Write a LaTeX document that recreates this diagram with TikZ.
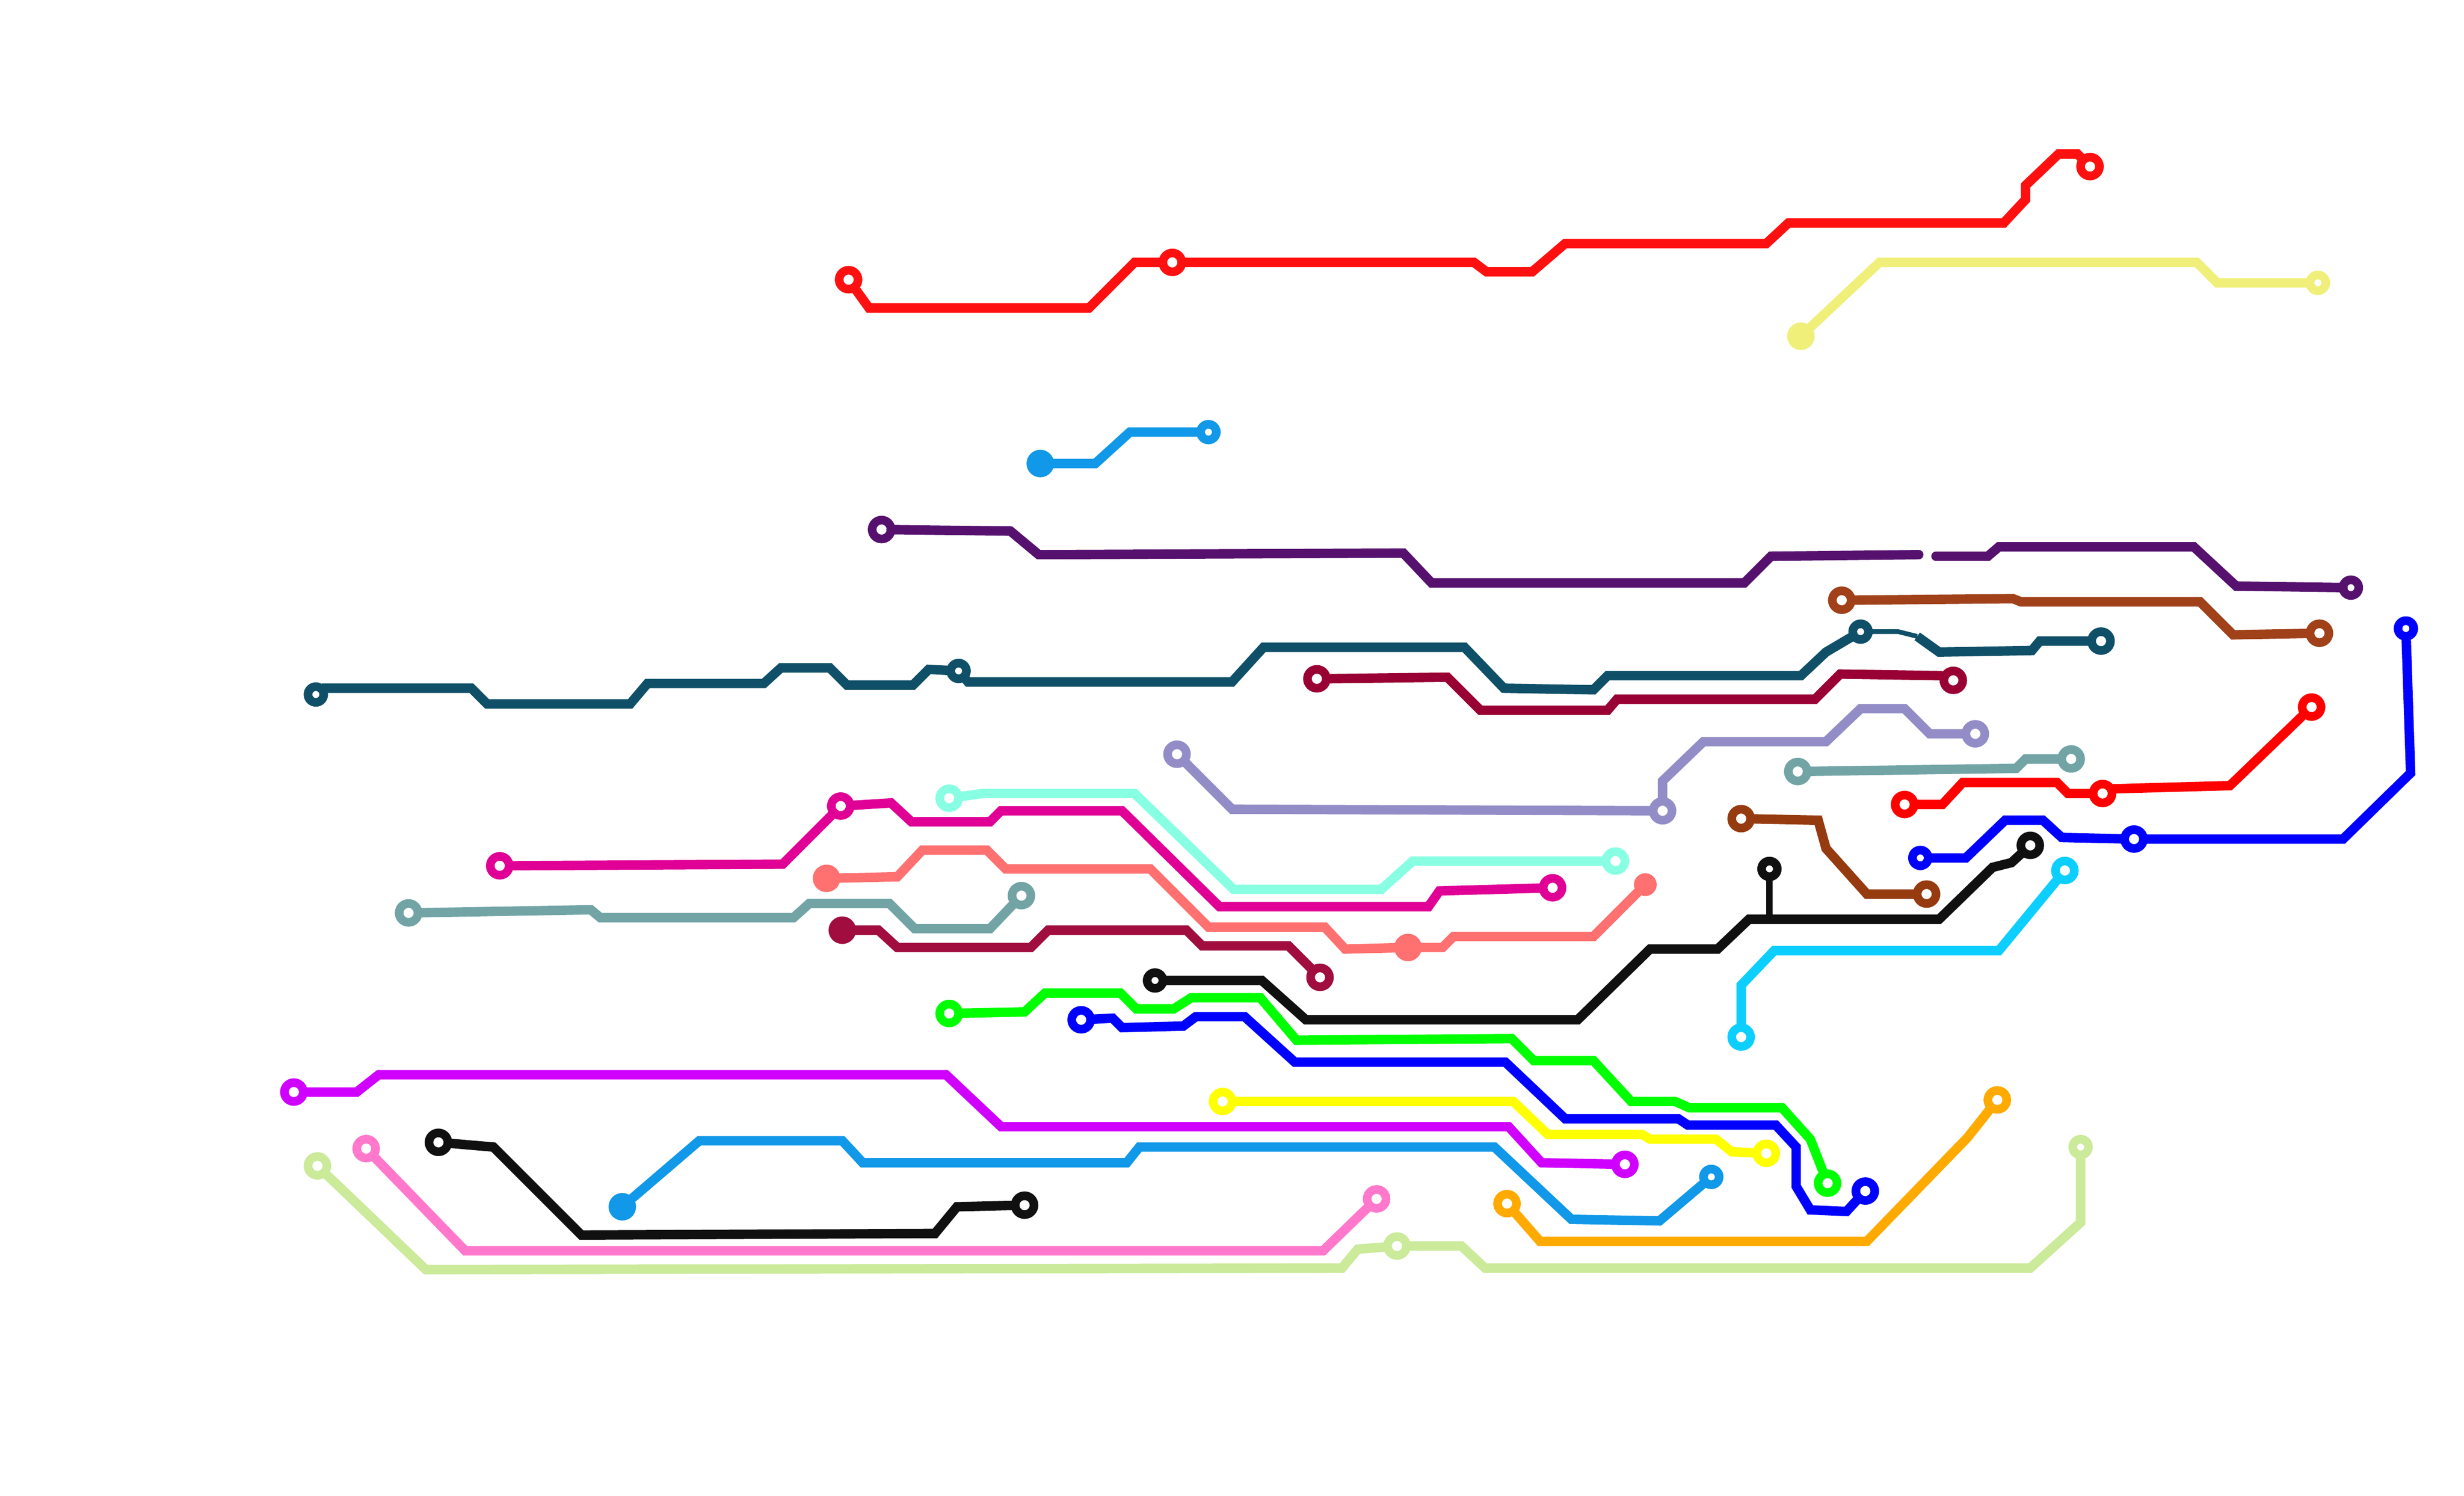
\documentclass[tikz,border=0pt]{standalone}
\definecolor{cRed}{HTML}{FF1010}
\definecolor{cRedB}{HTML}{FF0000}
\definecolor{cKhaki}{HTML}{EFEF7A}
\definecolor{cSky}{HTML}{1198E8}
\definecolor{cPurple}{HTML}{56116E}
\definecolor{cBrown}{HTML}{A0411A}
\definecolor{cBrownB}{HTML}{963A10}
\definecolor{cTeal}{HTML}{0F5068}
\definecolor{cCrimson}{HTML}{990033}
\definecolor{cLav}{HTML}{938DC7}
\definecolor{cGrey}{HTML}{72A4A6}
\definecolor{cBlue}{HTML}{0000FF}
\definecolor{cBlack}{HTML}{101010}
\definecolor{cCyan}{HTML}{0DCFFF}
\definecolor{cAqua}{HTML}{88FFE3}
\definecolor{cMag}{HTML}{E00095}
\definecolor{cSalmon}{HTML}{FF7070}
\definecolor{cMaroon}{HTML}{A00D3E}
\definecolor{cGreen}{HTML}{00FF00}
\definecolor{cYellow}{HTML}{FFFF00}
\definecolor{cViolet}{HTML}{D000FF}
\definecolor{cPink}{HTML}{FF78CC}
\definecolor{cOrange}{HTML}{FFAA00}
\definecolor{cLime}{HTML}{CBEA9A}
\tikzset{
  ring/.style={circle,draw=#1,fill=white,line width=5.5pt,minimum size=12pt,inner sep=0pt,outer sep=0pt},
  smallring/.style={ring=#1,minimum size=10pt},
  dot/.style={circle,draw=#1,fill=#1,line width=5.5pt,minimum size=12pt,inner sep=0pt,outer sep=0pt},
  track/.style={draw=#1,line width=6pt,line join=miter}
}
\begin{document}
\begin{tikzpicture}[x=1pt,y=-1pt]
\useasboundingbox (0,0) rectangle (1568,951.8);
% red top
\node[ring=cRed] (a1) at (540,178) {};
\node[ring=cRed] (a2) at (746,167) {};
\node[ring=cRed] (a3) at (1330,106) {};
\draw[track=cRed] (a1) -- (553,196) -- (693,196) -- (722,167) -- (a2);
\draw[track=cRed] (a2) -- (938,167) -- (946,173) -- (975,173) -- (996,155) -- (1124,155) -- (1138,142) -- (1275,142) -- (1289,127) -- (1289,118) -- (1310,98) -- (1322,98) -- (a3);
% khaki
\node[dot=cKhaki] (b1) at (1146,214) {};
\node[smallring=cKhaki] (b2) at (1475,180) {};
\draw[track=cKhaki] (b1) -- (1196,167) -- (1398,167) -- (1411,180) -- (b2);
% sky short
\node[dot=cSky] (c1) at (662,295) {};
\node[smallring=cSky] (c2) at (769,275) {};
\draw[track=cSky] (c1) -- (697,295) -- (719,275) -- (c2);
% purple
\node[ring=cPurple] (d1) at (561,337) {};
\node[smallring=cPurple] (d2) at (1496,374) {};
\coordinate (d3) at (1221,353);
\coordinate (d4) at (1232,354);
\draw[track=cPurple,line cap=round] (d1) -- (643,338) -- (661,353) -- (893,352) -- (911,371) -- (1110,371) -- (1127,354) -- (d3);
\draw[track=cPurple,line cap=round] (d4) -- (1265,354) -- (1272,348) -- (1396,348) -- (1423,373) -- (d2);
% brown
\node[ring=cBrown] (e1) at (1172,382) {};
\node[ring=cBrown] (e2) at (1476,403) {};
\draw[track=cBrown] (e1) -- (1281,381) -- (1286,383) -- (1400,383) -- (1421,404) -- (e2);
% teal
\node[smallring=cTeal] (f1) at (201,442) {};
\node[smallring=cTeal] (f2) at (610,427) {};
\node[smallring=cTeal] (f3) at (1184,402) {};
\node[ring=cTeal] (f4) at (1337,408) {};
\draw[track=cTeal] (f1) -- (206,438) -- (300,438) -- (310,448) -- (401,448) -- (412,435) -- (486,435) -- (497,425) -- (528,425) -- (539,436) -- (581,436) -- (591,426) -- (f2);
\draw[track=cTeal] (f2) -- (616,434) -- (784,434) -- (804,412) -- (932,412) -- (957,438) -- (1014,439) -- (1023,430) -- (1146,430) -- (1162,415) -- (f3);
\draw[track=cTeal,line width=3pt] (f3) -- (1208,402) -- (1220,405);
\draw[track=cTeal] (1220,405) -- (1234,415) -- (1293,414) -- (1298,408) -- (f4);
% crimson
\node[ring=cCrimson] (g1) at (838,432) {};
\node[ring=cCrimson] (g2) at (1243,433) {};
\draw[track=cCrimson] (g1) -- (921,431) -- (942,452) -- (1023,452) -- (1029,445) -- (1155,445) -- (1171,429) -- (1235,430) -- (g2);
% lavender
\node[ring=cLav] (h1) at (749,480) {};
\node[ring=cLav] (h2) at (1058,516) {};
\node[ring=cLav] (h3) at (1257,467) {};
\draw[track=cLav] (h1) -- (784,515) -- (h2);
\draw[track=cLav] (h2) -- (1058,497) -- (1084,472) -- (1162,472) -- (1184,451) -- (1212,451) -- (1228,467) -- (h3);
% grey right
\node[ring=cGrey] (i1) at (1144,491) {};
\node[ring=cGrey] (i2) at (1318,483) {};
\draw[track=cGrey] (i1) -- (1283,489) -- (1289,483) -- (i2);
% red 2
\node[ring=cRedB] (j1) at (1212,512) {};
\node[ring=cRedB] (j2) at (1338,505) {};
\node[ring=cRedB] (j3) at (1471,450) {};
\draw[track=cRedB] (j1) -- (1236,512) -- (1249,498) -- (1309,498) -- (1316,505) -- (j2);
\draw[track=cRedB] (j2) -- (1345,502) -- (1419,500) -- (j3);
% blue right
\node[smallring=cBlue] (k1) at (1531,400) {};
\node[ring=cBlue] (k2) at (1358,534) {};
\node[smallring=cBlue] (k3) at (1222,546) {};
\draw[track=cBlue] (k1) -- (1534,492) -- (1491,534) -- (k2);
\draw[track=cBlue] (k2) -- (1312,533) -- (1300,522) -- (1276,522) -- (1251,546) -- (k3);
% brown 2
\node[ring=cBrownB] (l1) at (1108,521) {};
\node[ring=cBrownB] (l2) at (1226,569) {};
\draw[track=cBrownB] (l1) -- (1157,522) -- (1162,540) -- (1188,569) -- (l2);
% black
\node[ring=cBlack] (m1) at (1292,538) {};
\node[smallring=cBlack] (m2) at (735,624) {};
\node[smallring=cBlack] (m3) at (1126,553) {};
\coordinate (m4) at (1126,585);
\draw[track=cBlack] (m1) -- (1280,549) -- (1268,552) -- (1234,585) -- (1113,585) -- (1093,604) -- (1050,604) -- (1004,649) -- (831,649) -- (803,624) -- (m2);
\draw[track=cBlack,line width=4pt] (m3) -- (m4);
% cyan
\node[ring=cCyan] (n1) at (1314,554) {};
\node[ring=cCyan] (n2) at (1108,660) {};
\draw[track=cCyan] (n1) -- (1272,605) -- (1129,605) -- (1108,627) -- (n2);
% aqua
\node[ring=cAqua] (o1) at (604,508) {};
\node[ring=cAqua] (o2) at (1028,548) {};
\draw[track=cAqua] (o1) -- (625,505) -- (722,505) -- (785,566) -- (879,566) -- (899,548) -- (o2);
% magenta
\node[ring=cMag] (p1) at (318,551) {};
\node[ring=cMag] (p2) at (535,513) {};
\node[ring=cMag] (p3) at (988,565) {};
\draw[track=cMag] (p1) -- (498,550) -- (p2);
\draw[track=cMag] (p2) -- (567,511) -- (580,523) -- (630,523) -- (637,516) -- (714,516) -- (776,577) -- (909,577) -- (916,567) -- (p3);
% salmon
\node[dot=cSalmon] (q1) at (526,559) {};
\node[dot=cSalmon] (q2) at (896,603) {};
\node[dot=cSalmon,minimum size=9pt] (q3) at (1047,563) {};
\draw[track=cSalmon] (q1) -- (571,558) -- (587,541) -- (628,541) -- (640,553) -- (732,553) -- (769,590) -- (843,590) -- (856,604) -- (q2);
\draw[track=cSalmon] (q2) -- (918,603) -- (925,596) -- (1014,596) -- (q3);
% grey left
\node[ring=cGrey] (r1) at (260,581) {};
\node[ring=cGrey] (r2) at (650,570) {};
\draw[track=cGrey] (r1) -- (376,579) -- (382,584) -- (505,584) -- (515,575) -- (566,575) -- (582,591) -- (630,591) -- (r2);
% maroon
\node[dot=cMaroon] (s1) at (536,592) {};
\node[ring=cMaroon] (s2) at (840,622) {};
\draw[track=cMaroon] (s1) -- (559,592) -- (571,603) -- (656,603) -- (667,592) -- (755,592) -- (765,602) -- (820,602) -- (s2);
% green
\node[ring=cGreen] (t1) at (604,645) {};
\node[ring=cGreen] (t2) at (1163,753) {};
\draw[track=cGreen] (t1) -- (652,644) -- (665,632) -- (713,632) -- (723,642) -- (747,642) -- (758,635) -- (802,635) -- (825,662) -- (962,661) -- (976,675) -- (1014,675) -- (1038,701) -- (1066,701) -- (1075,705) -- (1134,705) -- (1152,725) -- (t2);
% blue 2
\node[ring=cBlue] (u1) at (688,649) {};
\node[ring=cBlue] (u2) at (1187,758) {};
\draw[track=cBlue] (u1) -- (708,648) -- (714,654) -- (753,653) -- (761,647) -- (792,647) -- (824,676) -- (958,676) -- (996,712) -- (1068,712) -- (1074,716) -- (1130,716) -- (1143,730) -- (1143,755) -- (1152,770) -- (1175,771) -- (u2);
% yellow
\node[ring=cYellow] (v1) at (778,701) {};
\node[ring=cYellow] (v2) at (1124,734) {};
\draw[track=cYellow] (v1) -- (963,701) -- (985,722) -- (1045,722) -- (1050,725) -- (1092,725) -- (1102,733) -- (v2);
% violet
\node[ring=cViolet] (w1) at (187,695) {};
\node[ring=cViolet] (w2) at (1034,741) {};
\draw[track=cViolet] (w1) -- (227,695) -- (241,684) -- (602,684) -- (637,717) -- (960,717) -- (981,740) -- (w2);
% sky long
\node[dot=cSky] (x1) at (396,768) {};
\node[smallring=cSky] (x2) at (1089,749) {};
\draw[track=cSky] (x1) -- (445,726) -- (536,726) -- (549,740) -- (717,740) -- (725,730) -- (951,730) -- (1000,776) -- (1056,777) -- (x2);
% pink
\node[ring=cPink] (y1) at (233,731) {};
\node[ring=cPink] (y2) at (876,763) {};
\draw[track=cPink] (y1) -- (296,796) -- (842,796) -- (y2);
% black lower
\node[ring=cBlack] (z1) at (279,727) {};
\node[ring=cBlack] (z2) at (652,767) {};
\draw[track=cBlack] (z1) -- (314,730) -- (370,786) -- (595,785) -- (609,768) -- (z2);
% orange
\node[ring=cOrange] (aa1) at (959,766) {};
\node[ring=cOrange] (aa2) at (1271,700) {};
\draw[track=cOrange] (aa1) -- (980,790) -- (1188,790) -- (1252,724) -- (aa2);
% lime
\node[ring=cLime] (ab1) at (202,742) {};
\node[ring=cLime] (ab2) at (889,793) {};
\node[smallring=cLime] (ab3) at (1324,730) {};
\draw[track=cLime] (ab1) -- (271,808) -- (854,807) -- (864,795) -- (ab2);
\draw[track=cLime] (ab2) -- (930,793) -- (945,807) -- (1292,807) -- (1324,778) -- (ab3);
\end{tikzpicture}
\end{document}
